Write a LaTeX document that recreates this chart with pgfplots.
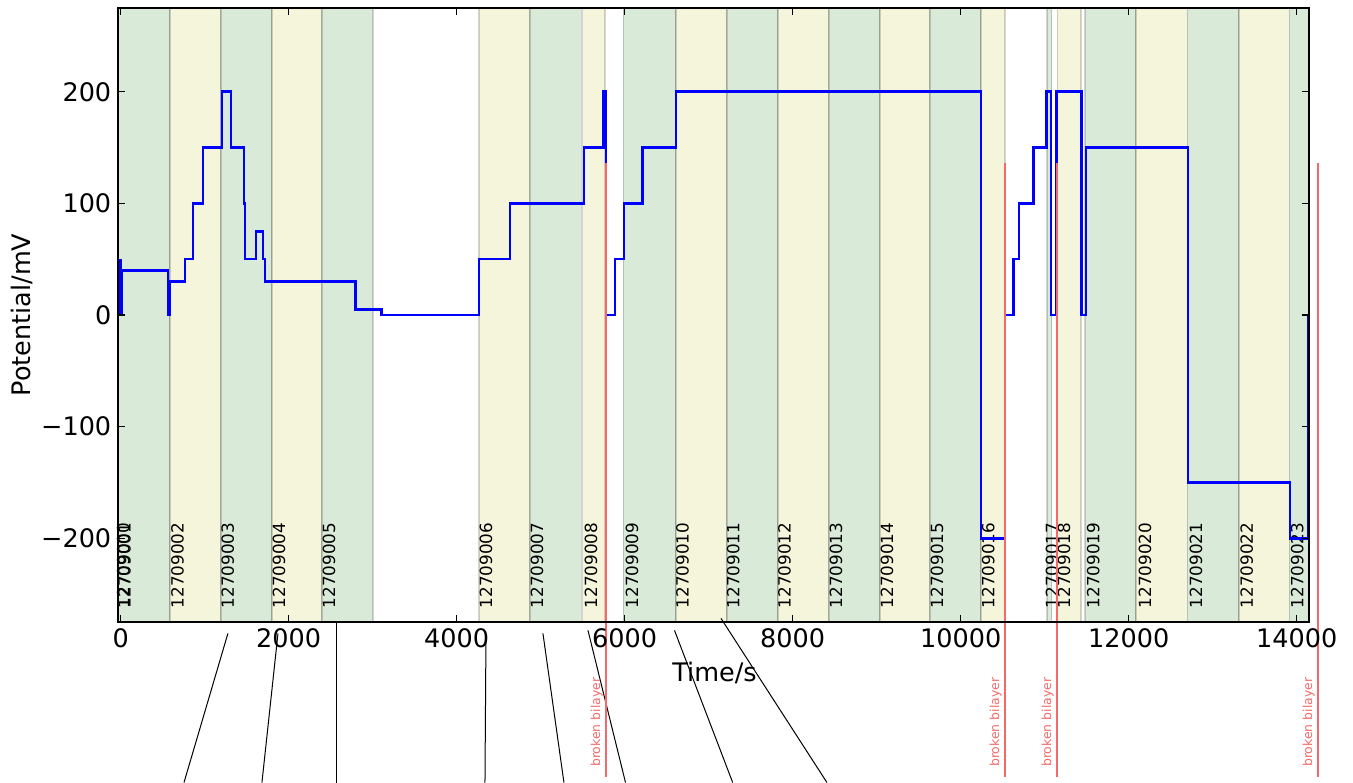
\documentclass[border=0pt]{standalone}
\usepackage{fontspec}
\setmainfont{DejaVu Sans}
\usepackage{pgfplots}
\pgfplotsset{compat=1.18}

\definecolor{bandgreen}{RGB}{217,234,217}
\definecolor{bandyellow}{RGB}{245,245,219}
\definecolor{brokenred}{RGB}{245,105,105}

% one recording file = one shaded band
\newcommand{\band}[3]{\addplot[fill=#3, draw=black, draw opacity=0.17, line width=0.8pt]
  coordinates {(#1,-275) (#1,275) (#2,275) (#2,-275)} -- cycle;}
\newcommand{\flabel}[2]{\node[rotate=90, anchor=west, inner sep=0pt,
  font=\fontsize{8.4}{10}\selectfont] at (axis cs:#1,-263) {#2};}
\newcommand{\broken}[2]{%
  \draw[brokenred, line width=0.7pt] (axis cs:#1,136) -- (axis cs:#1,-414);
  \node[rotate=90, anchor=west, inner sep=0pt, text=brokenred,
    font=\fontsize{6.2}{7}\selectfont] at (axis cs:#2,-405) {broken bilayer};}

\begin{document}
\begin{tikzpicture}
\useasboundingbox (-59.15pt,-80pt) rectangle (617.35pt,311pt);
\begin{axis}[
    width=595.5pt, height=307pt, scale only axis,
    xmin=-28, xmax=14150,
    ymin=-275, ymax=275,
    clip=false, axis on top,
    axis line style={line width=1pt},
    tick style={black, line width=0.6pt},
    major tick length=3.5pt,
    scaled x ticks=false,
    xtick={0,2000,4000,6000,8000,10000,12000,14000},
    xticklabels={0,2000,4000,6000,8000,10000,12000,14000},
    ytick={-200,-100,0,100,200},
    yticklabels={−200,−100,0,100,200},
    /pgf/number format/assume math mode=true,
    tick label style={font=\fontsize{12.75}{15}\selectfont},
    label style={font=\fontsize{12.75}{15}\selectfont},
    xlabel={Time/s},
    ylabel={Potential/mV},
    xlabel style={at={(axis description cs:0.5006,-0.083)}, anchor=center},
    ylabel style={at={(axis description cs:-0.0806,0.5)}, anchor=center},
  ]
  \band{-28}{587}{bandgreen}
  \band{587}{1192}{bandyellow}
  \band{1192}{1801}{bandgreen}
  \band{1801}{2396}{bandyellow}
  \band{2396}{3004}{bandgreen}
  \band{4265}{4873}{bandyellow}
  \band{4873}{5485}{bandgreen}
  \band{5500}{5765}{bandyellow}
  \band{5985}{6610}{bandgreen}
  \band{6610}{7218}{bandyellow}
  \band{7218}{7825}{bandgreen}
  \band{7825}{8432}{bandyellow}
  \band{8432}{9039}{bandgreen}
  \band{9039}{9634}{bandyellow}
  \band{9634}{10241}{bandgreen}
  \band{10241}{10527}{bandyellow}
  \band{11024}{11083}{bandgreen}
  \band{11150}{11429}{bandyellow}
  \band{11480}{12087}{bandgreen}
  \band{12087}{12698}{bandyellow}
  \band{12698}{13310}{bandgreen}
  \band{13310}{13912}{bandyellow}
  \band{13912}{14150}{bandgreen}

  \flabel{30}{12709000}
  \flabel{45}{12709001}
  \flabel{676}{12709002}
  \flabel{1275}{12709003}
  \flabel{1884}{12709004}
  \flabel{2479}{12709005}
  \flabel{4348}{12709006}
  \flabel{4956}{12709007}
  \flabel{5600}{12709008}
  \flabel{6087}{12709009}
  \flabel{6688}{12709010}
  \flabel{7293}{12709011}
  \flabel{7902}{12709012}
  \flabel{8515}{12709013}
  \flabel{9122}{12709014}
  \flabel{9717}{12709015}
  \flabel{10329}{12709016}
  \flabel{11087}{12709017}
  \flabel{11230}{12709018}
  \flabel{11579}{12709019}
  \flabel{12194}{12709020}
  \flabel{12801}{12709021}
  \flabel{13405}{12709022}
  \flabel{14007}{12709023}

  \addplot[blue, line width=1.25pt, const plot] coordinates {
    (0,50) (0,0) (8,40) (565,0) (590,30) (765,50) (860,100) (980,150)
    (1207,200) (1315,150) (1470,100) (1478,50) (1610,75) (1695,50) (1720,30)
    (2798,5) (3107,0) (4266,50) (4635,100) (5515,150) (5745,200) (5775,0)
    (5885,50) (5993,100) (6214,150) (6611,200) (10244,-200) (10527,0)
    (10626,50) (10694,100) (10864,150) (11024,200) (11075,0) (11143,200)
    (11440,0) (11492,150) (12707,-150) (13921,-200) (14132,0) (14150,0)
  };

  % pointer lines below the axis
  \draw[black, line width=0.5pt] (axis cs:1277,-285.2) -- (axis cs:754,-418.8);
  \draw[black, line width=0.5pt] (axis cs:1873,-285.2) -- (axis cs:1682,-418.8);
  \draw[black, line width=0.5pt] (axis cs:2571,-275.3) -- (axis cs:2571,-418.8);
  \draw[black, line width=0.5pt] (axis cs:4349,-285.2) -- (axis cs:4337,-418.8);
  \draw[black, line width=0.5pt] (axis cs:5027,-285.2) -- (axis cs:5277,-418.8);
  \draw[black, line width=0.5pt] (axis cs:5563,-282.5) -- (axis cs:6010,-418.8);
  \draw[black, line width=0.5pt] (axis cs:6593,-282.5) -- (axis cs:7286,-418.8);
  \draw[black, line width=0.5pt] (axis cs:7146,-271.7) -- (axis cs:8408,-418.8);

  \broken{5778}{5667}
  \broken{10527}{10416}
  \broken{11146}{11035}
  \broken{14254}{14143}
\end{axis}
\end{tikzpicture}
\end{document}
